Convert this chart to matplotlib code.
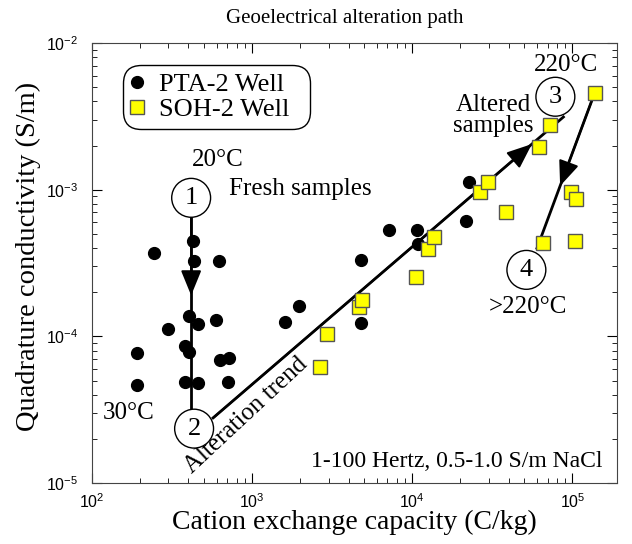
import numpy as np
import matplotlib
matplotlib.use("Agg")
import matplotlib.pyplot as plt

plt.rcParams["font.family"] = ["Liberation Serif", "DejaVu Serif"]

# PTA-2 well samples: cation exchange capacity (C/kg), quadrature conductivity (S/m)
pta_cec = [430, 244, 434, 625, 406, 593, 462, 297, 1597, 381, 191, 406, 631, 718,
           191, 381, 462, 705, 1975, 4800, 4770, 7180, 10740, 10790, 21650, 22600]
pta_sig = [4.49e-4, 3.68e-4, 3.28e-4, 3.27e-4, 1.38e-4, 1.29e-4, 1.21e-4, 1.12e-4,
           1.25e-4, 8.56e-5, 7.74e-5, 7.79e-5, 6.87e-5, 7.09e-5, 4.64e-5, 4.86e-5,
           4.83e-5, 4.86e-5, 1.61e-4, 3.32e-4, 1.24e-4, 5.31e-4, 5.31e-4, 4.25e-4,
           6.12e-4, 1.133e-3]

# SOH-2 well samples
soh_cec = [2660, 2955, 4664, 4849, 10550, 12590, 13670, 26300, 29720, 38680,
           61560, 72130, 139200, 98600, 105900, 65200, 104400]
soh_sig = [6.18e-5, 1.03e-4, 1.58e-4, 1.77e-4, 2.55e-4, 3.92e-4, 4.74e-4, 9.69e-4,
           1.128e-3, 7.01e-4, 1.96e-3, 2.76e-3, 4.58e-3, 9.69e-4, 8.64e-4, 4.31e-4,
           4.49e-4]

# alteration path: segment end points
path_x = [[416, 416], [570, 87900], [132700, 60100]]
path_y = [[8.8e-4, 3.15e-5], [2.78e-5, 3.13e-3], [4.09e-3, 3.99e-4]]
arrow_frac = [0.46, 0.91, 0.58]

# numbered stages
stage_lbl = ["1", "2", "3", "4"]
stage_x = [416, 434, 78300, 51600]
stage_y = [8.8e-4, 2.35e-5, 4.3e-3, 2.84e-4]

fig = plt.figure(figsize=(6.32, 5.44), dpi=100)
ax = fig.add_axes([0.1456, 0.112, 0.8307, 0.809])
ax.set_xscale("log")
ax.set_yscale("log")
ax.set_xlim(1e2, 1.9e5)
ax.set_ylim(1e-5, 1e-2)

for xs, ys, f in zip(path_x, path_y, arrow_frac):
    ax.plot(xs, ys, color="black", lw=2, zorder=2)
    lx, ly = np.log10(xs), np.log10(ys)
    tip = (10 ** (lx[0] + f * (lx[1] - lx[0])), 10 ** (ly[0] + f * (ly[1] - ly[0])))
    ax.annotate("", xy=tip, xytext=(xs[0], ys[0]),
                arrowprops=dict(arrowstyle="-|>,head_length=1.1,head_width=0.45",
                                mutation_scale=14, color="black", lw=1.5,
                                shrinkA=0, shrinkB=0), zorder=2)

ax.plot(pta_cec, pta_sig, "o", color="black", ms=8.5, ls="none", zorder=3,
        label="PTA-2 Well  ")
ax.plot(soh_cec, soh_sig, "s", mfc="#ffff00", mec="#555555", mew=1, ms=9.5,
        ls="none", zorder=3, label="SOH-2 Well  ")

for s, x, y in zip(stage_lbl, stage_x, stage_y):
    ax.text(x, y, s, fontsize=19, ha="center", va="center", zorder=5,
            bbox=dict(boxstyle="circle,pad=0.32", fc="white", ec="black", lw=1))

tx = ax.transAxes
ax.text(0.24, 0.734, "20°C", fontsize=18, ha="center", va="center", transform=tx)
ax.text(0.26, 0.668, "Fresh samples", fontsize=18, ha="left", va="center", transform=tx)
ax.text(0.021, 0.159, "30°C", fontsize=18, ha="left", va="center", transform=tx)
ax.text(0.293, 0.155, "Alteration trend", fontsize=18, ha="center", va="center",
        rotation=43, rotation_mode="anchor", transform=tx, zorder=4)
ax.text(0.973, 0.048, "1-100 Hertz, 0.5-1.0 S/m NaCl", fontsize=17, ha="right",
        va="center", transform=tx)
ax.text(0.903, 0.95, "220°C", fontsize=18, ha="center", va="center", transform=tx)
ax.text(0.764, 0.836, "Altered\nsamples", fontsize=18, ha="center", va="center",
        linespacing=0.95, transform=tx)
ax.text(0.830, 0.40, ">220°C", fontsize=18, ha="center", va="center", transform=tx)

leg = ax.legend(loc="upper left", bbox_to_anchor=(0.059, 0.95), fontsize=19,
                frameon=True, fancybox=True, framealpha=1, edgecolor="black",
                handletextpad=0.6, handlelength=0.45, borderpad=0.3,
                labelspacing=0.05, borderaxespad=0)
leg.get_frame().set_linewidth(1)
leg.get_frame().set_boxstyle("round", pad=0, rounding_size=0.7)

ax.tick_params(which="both", direction="in", top=True, right=True,
               labelsize=11.5, labelfontfamily="Liberation Sans")
ax.tick_params(which="major", length=7)
ax.tick_params(which="minor", length=3.5)
ax.tick_params(axis="y", pad=10)
ax.tick_params(axis="x", pad=7)
for sp in ax.spines.values():
    sp.set_color("#444444")

ax.set_xlabel("Cation exchange capacity (C/kg)", fontsize=20)
ax.set_ylabel("Quadrature conductivity (S/m)", fontsize=20.5)
ax.xaxis.set_label_coords(0.5, -0.089)
ax.yaxis.set_label_coords(-0.122, 0.515)
ax.xaxis.label.set_va("center")
ax.yaxis.label.set_va("center")
fig.text(345 / 632, 1 - 19 / 544, "Geoelectrical alteration path", fontsize=15,
         ha="center", va="center")

fig.savefig("out.png", dpi=100)
